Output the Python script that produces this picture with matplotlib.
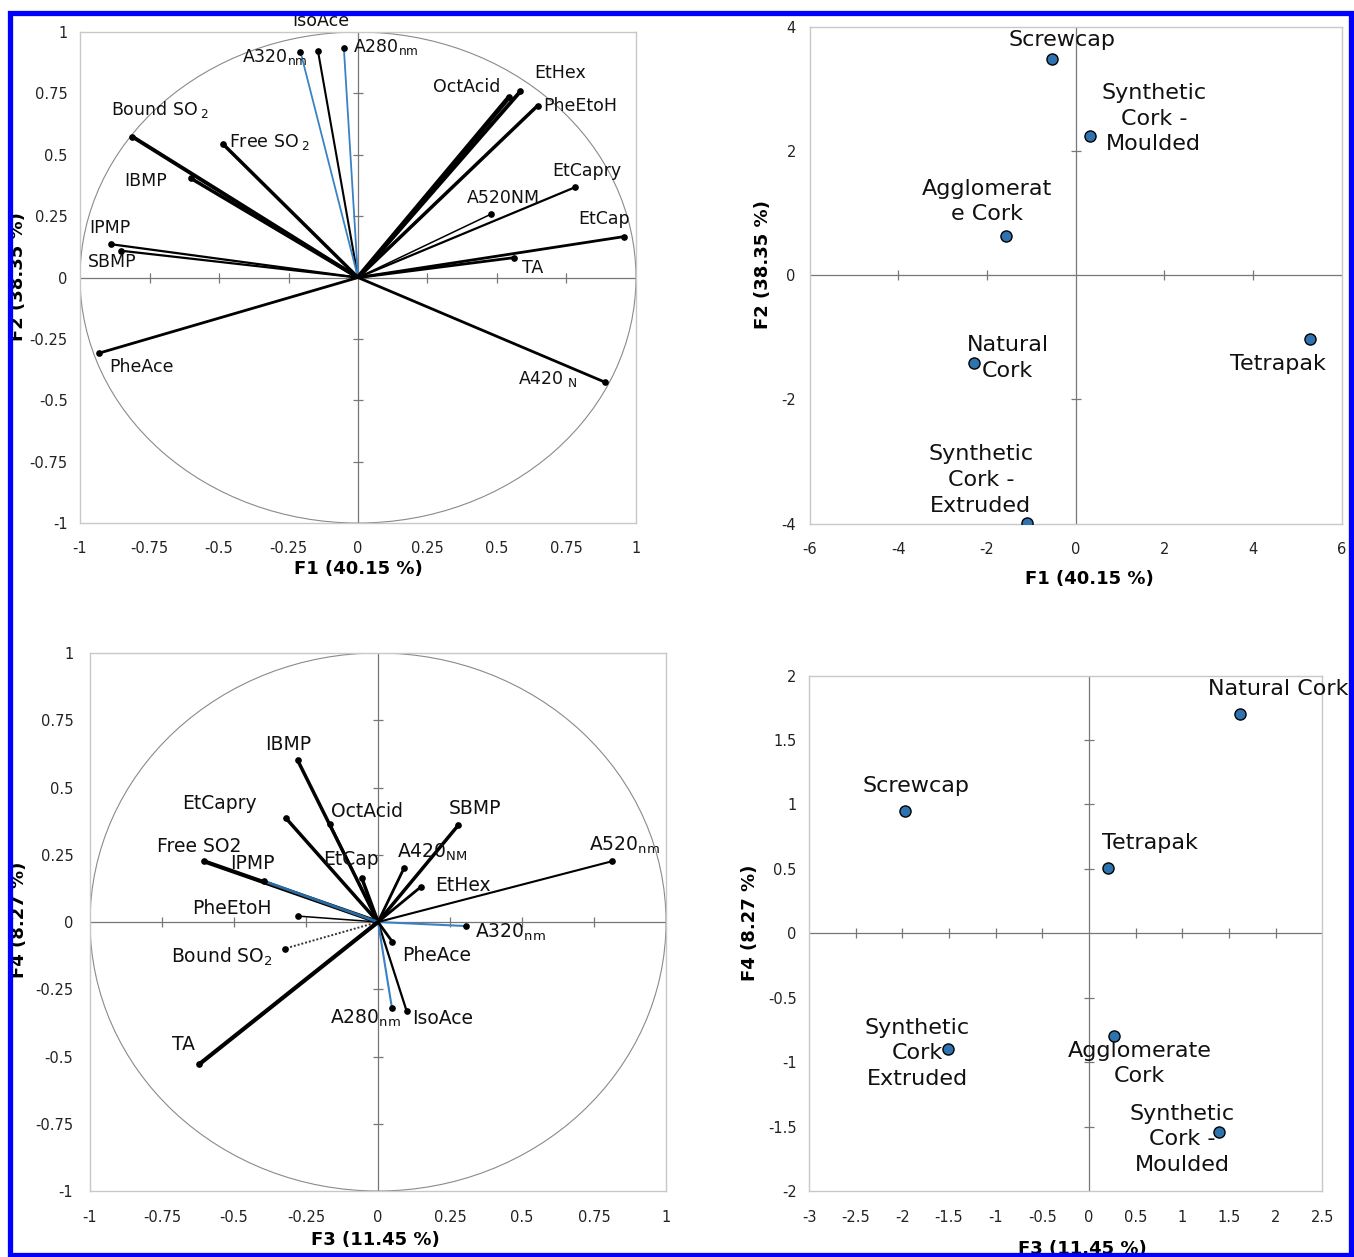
import matplotlib
matplotlib.use("Agg")
import matplotlib.pyplot as plt
import matplotlib.patches as patches
from matplotlib.ticker import FuncFormatter

plt.rcParams['font.family'] = ['DejaVu Sans']
plt.rcParams['mathtext.default'] = 'regular'
plt.rcParams['axes.unicode_minus'] = False

# ---------------- data ----------------
variables = ['IsoAce', 'A320nm', 'A280nm', 'OctAcid', 'EtHex', 'PheEtoH',
             'BoundSO2', 'FreeSO2', 'IBMP', 'EtCapry', 'A520nm', 'EtCap',
             'IPMP', 'SBMP', 'TA', 'PheAce', 'A420nm']

# loadings F1 / F2
f1 = [-0.144, -0.207, -0.051, 0.545, 0.584, 0.646, -0.812, -0.485, -0.601,
      0.779, 0.478, 0.958, -0.890, -0.851, 0.561, -0.932, 0.888]
f2 = [0.923, 0.920, 0.937, 0.737, 0.758, 0.700, 0.574, 0.543, 0.404,
      0.367, 0.258, 0.167, 0.136, 0.109, 0.081, -0.308, -0.426]

# loadings F3 / F4
f3 = [0.099, 0.305, 0.048, -0.166, 0.148, -0.278, -0.324, -0.605, -0.279,
      -0.319, 0.813, -0.057, -0.396, 0.278, -0.620, 0.050, 0.090]
f4 = [-0.330, -0.015, -0.318, 0.363, 0.130, 0.022, -0.099, 0.226, 0.601,
      0.385, 0.226, 0.165, 0.152, 0.359, -0.528, -0.074, 0.200]

labels_12 = ['IsoAce', 'A320$_{nm}$', 'A280$_{nm}$', 'OctAcid', 'EtHex', 'PheEtoH',
             'Bound SO$_{\\ 2}$', 'Free SO$_{\\ 2}$', 'IBMP', 'EtCapry', 'A520NM', 'EtCap',
             'IPMP', 'SBMP', 'TA', 'PheAce', 'A420$_{\\ N}$']
labels_34 = ['IsoAce', 'A320$_{nm}$', 'A280$_{nm}$', 'OctAcid', 'EtHex', 'PheEtoH',
             'Bound SO$_2$', 'Free SO2', 'IBMP', 'EtCapry', 'A520$_{nm}$', 'EtCap',
             'IPMP', 'SBMP', 'TA', 'PheAce', 'A420$_{NM}$']

# sample scores
closures = ['Screwcap', 'Synthetic Cork - Moulded', 'Agglomerate Cork',
            'Natural Cork', 'Synthetic Cork - Extruded', 'Tetrapak']
s1 = [-0.53, 0.33, -1.58, -2.30, -1.09, 5.29]
s2 = [3.49, 2.25, 0.63, -1.42, -3.99, -1.03]
s3 = [-1.97, 1.39, 0.27, 1.62, -1.51, 0.20]
s4 = [0.95, -1.54, -0.80, 1.70, -0.90, 0.51]

# ---------------- styles / label placement ----------------
BLUE = '#3a82c4'
PT_BLUE = '#2f72b0'

# (colour, linewidth, linestyle) per variable
style_12 = {
    'IsoAce': ('black', 1.5, '-'), 'A320nm': (BLUE, 1.3, '-'), 'A280nm': (BLUE, 1.3, '-'),
    'OctAcid': ('black', 3.4, '-'), 'EtHex': ('black', 2.8, '-'), 'PheEtoH': ('black', 2.5, '-'),
    'BoundSO2': ('black', 2.8, '-'), 'FreeSO2': ('black', 2.5, '-'), 'IBMP': ('black', 2.5, '-'),
    'EtCapry': ('black', 1.6, '-'), 'A520nm': ('black', 1.1, '-'), 'EtCap': ('black', 2.0, '-'),
    'IPMP': ('black', 1.6, '-'), 'SBMP': ('black', 1.6, '-'), 'TA': ('black', 2.0, '-'),
    'PheAce': ('black', 2.0, '-'), 'A420nm': ('black', 2.0, '-'),
}
style_34 = {
    'IsoAce': ('black', 1.6, '-'), 'A320nm': (BLUE, 1.5, '-'), 'A280nm': (BLUE, 1.5, '-'),
    'OctAcid': ('black', 1.5, '-'), 'EtHex': ('black', 2.0, '-'), 'PheEtoH': ('black', 1.1, '-'),
    'BoundSO2': ('#333333', 1.4, (0, (1, 1))), 'FreeSO2': ('black', 3.0, '-'), 'IBMP': ('black', 2.5, '-'),
    'EtCapry': ('black', 2.5, '-'), 'A520nm': ('black', 1.5, '-'), 'EtCap': ('black', 2.5, '-'),
    'IPMP': ('#2a6aa3', 2.0, '-'), 'SBMP': ('black', 2.5, '-'), 'TA': ('black', 3.0, '-'),
    'PheAce': ('black', 2.0, '-'), 'A420nm': ('black', 2.0, '-'),
}

# label centres in data coordinates
lab_pos_12 = {
    'IsoAce': (-0.133, 1.047), 'A320nm': (-0.30, 0.90), 'A280nm': (0.10, 0.94),
    'OctAcid': (0.392, 0.778), 'EtHex': (0.727, 0.835), 'PheEtoH': (0.80, 0.697),
    'BoundSO2': (-0.712, 0.684), 'FreeSO2': (-0.317, 0.554), 'IBMP': (-0.763, 0.395),
    'EtCapry': (0.824, 0.436), 'A520nm': (0.522, 0.322), 'EtCap': (0.885, 0.24),
    'IPMP': (-0.892, 0.20), 'SBMP': (-0.885, 0.065), 'TA': (0.63, 0.04),
    'PheAce': (-0.78, -0.363), 'A420nm': (0.683, -0.415),
}
lab_pos_34 = {
    'IsoAce': (0.225, -0.357), 'A320nm': (0.46, -0.038), 'A280nm': (-0.043, -0.357),
    'OctAcid': (-0.039, 0.411), 'EtHex': (0.294, 0.136), 'PheEtoH': (-0.508, 0.051),
    'BoundSO2': (-0.543, -0.131), 'FreeSO2': (-0.622, 0.281), 'IBMP': (-0.313, 0.66),
    'EtCapry': (-0.55, 0.441), 'A520nm': (0.857, 0.285), 'EtCap': (-0.095, 0.233),
    'IPMP': (-0.435, 0.218), 'SBMP': (0.336, 0.423), 'TA': (-0.675, -0.454),
    'PheAce': (0.204, -0.124), 'A420nm': (0.19, 0.259),
}

score_lab_12 = {
    'Screwcap': ('Screwcap', (-0.31, 3.79)),
    'Synthetic Cork - Moulded': ('Synthetic\nCork -\nMoulded', (1.76, 2.52)),
    'Agglomerate Cork': ('Agglomerat\ne Cork', (-2.0, 1.19)),
    'Natural Cork': ('Natural\nCork', (-1.54, -1.33)),
    'Synthetic Cork - Extruded': ('Synthetic\nCork -\nExtruded', (-2.14, -3.30)),
    'Tetrapak': ('Tetrapak', (4.57, -1.43)),
}
score_lab_34 = {
    'Screwcap': ('Screwcap', (-1.85, 1.14)),
    'Synthetic Cork - Moulded': ('Synthetic\nCork -\nMoulded', (1.00, -1.60)),
    'Agglomerate Cork': ('Agglomerate\nCork', (0.54, -1.01)),
    'Natural Cork': ('Natural Cork', (2.03, 1.90)),
    'Synthetic Cork - Extruded': ('Synthetic\nCork\nExtruded', (-1.84, -0.93)),
    'Tetrapak': ('Tetrapak', (0.65, 0.70)),
}


def fmt(v, pos):
    return '{:g}'.format(round(v, 4))


def setup_frame(ax, xlim, ylim, xticks, yticks, xlabel, ylabel,
                xpad, ypad, xlab_xy, ylab_xy):
    ax.set_xlim(*xlim)
    ax.set_ylim(*ylim)
    ax.set_xticks(xticks)
    ax.set_yticks(yticks)
    ax.xaxis.set_major_formatter(FuncFormatter(fmt))
    ax.yaxis.set_major_formatter(FuncFormatter(fmt))
    for s in ax.spines.values():
        s.set_color('#c8c8c8')
        s.set_linewidth(1.0)
    ax.tick_params(axis='x', length=0, labelsize=10.5, pad=xpad, colors='#222222')
    ax.tick_params(axis='y', length=0, labelsize=10.5, pad=ypad, colors='#222222')
    # zero axes with small tick marks
    ax.axhline(0, color='#777777', lw=0.9, zorder=1)
    ax.axvline(0, color='#777777', lw=0.9, zorder=1)
    xin = [t for t in xticks if t != 0 and xlim[0] < t < xlim[1]]
    yin = [t for t in yticks if t != 0 and ylim[0] < t < ylim[1]]
    ax.plot(xin, [0] * len(xin), '|', color='#777777', ms=7, mew=0.9, zorder=1)
    ax.plot([0] * len(yin), yin, '_', color='#777777', ms=7, mew=0.9, zorder=1)
    ax.set_xlabel(xlabel, fontsize=13, fontweight='bold')
    ax.set_ylabel(ylabel, fontsize=13, fontweight='bold')
    ax.xaxis.set_label_coords(*xlab_xy)
    ax.yaxis.set_label_coords(*ylab_xy)


def draw_loadings(ax, xs, ys, labels, styles, lab_pos, fs):
    ax.add_patch(patches.Circle((0, 0), 1, fill=False, ec='#8a8a8a', lw=0.8, zorder=1))
    for name, x, y, lab in zip(variables, xs, ys, labels):
        c, lw, ls = styles[name]
        ax.plot([0, x], [0, y], color=c, lw=lw, ls=ls, solid_capstyle='butt', zorder=3)
        ax.plot(x, y, 'o', color='black', ms=3.8, zorder=4)
        lx, ly = lab_pos[name]
        ax.text(lx, ly, lab, fontsize=fs, ha='center', va='center',
                color='#111111', zorder=5, clip_on=False)


def draw_scores(ax, xs, ys, lab_map, fs):
    for name, x, y in zip(closures, xs, ys):
        ax.plot(x, y, 'o', ms=8, mfc=PT_BLUE, mec='black', mew=1.0, zorder=4)
        txt, (lx, ly) = lab_map[name]
        ax.text(lx, ly, txt, fontsize=fs, ha='center', va='center',
                linespacing=1.35, color='#111111', zorder=5, clip_on=False)


fig = plt.figure(figsize=(13.54, 12.57), dpi=100)

# top-left: loadings F1/F2
ax1 = fig.add_axes([0.0591, 0.5839, 0.4106, 0.3906])
tk = [-1, -0.75, -0.5, -0.25, 0, 0.25, 0.5, 0.75, 1]
setup_frame(ax1, (-1, 1), (-1, 1), tk, tk, 'F1 (40.15 %)', 'F2 (38.35 %)',
            xpad=13, ypad=9, xlab_xy=(0.5, -0.075), ylab_xy=(-0.095, 0.503))
draw_loadings(ax1, f1, f2, labels_12, style_12, lab_pos_12, 12.5)

# top-right: scores F1/F2
ax2 = fig.add_axes([0.598, 0.5835, 0.393, 0.395])
setup_frame(ax2, (-6, 6), (-4, 4), [-6, -4, -2, 0, 2, 4, 6], [-4, -2, 0, 2, 4],
            'F1 (40.15 %)', 'F2 (38.35 %)',
            xpad=13, ypad=10, xlab_xy=(0.525, -0.094), ylab_xy=(-0.071, 0.522))
draw_scores(ax2, s1, s2, score_lab_12, 16)

# bottom-left: loadings F3/F4
ax3 = fig.add_axes([0.0665, 0.0525, 0.4254, 0.428])
setup_frame(ax3, (-1, 1), (-1, 1), tk, tk, 'F3 (11.45 %)', 'F4 (8.27 %)',
            xpad=14, ypad=12, xlab_xy=(0.495, -0.074), ylab_xy=(-0.108, 0.504))
draw_loadings(ax3, f3, f4, labels_34, style_34, lab_pos_34, 13.5)

# bottom-right: scores F3/F4
ax4 = fig.add_axes([0.5975, 0.0525, 0.379, 0.410])
setup_frame(ax4, (-3, 2.5), (-2, 2), [-3, -2.5, -2, -1.5, -1, -0.5, 0, 0.5, 1, 1.5, 2, 2.5],
            [-2, -1.5, -1, -0.5, 0, 0.5, 1, 1.5, 2],
            'F3 (11.45 %)', 'F4 (8.27 %)',
            xpad=14, ypad=9, xlab_xy=(0.532, -0.095), ylab_xy=(-0.0965, 0.52))
draw_scores(ax4, s3, s4, score_lab_34, 16)

# blue frame round the whole figure
W, H = 1354.0, 1257.0
border = patches.Rectangle((9.5 / W, 1 - 1254.5 / H), (1351 - 9.5) / W, (1254.5 - 12.5) / H,
                           transform=fig.transFigure, fill=False, ec='#0000ff', lw=3.8,
                           zorder=100)
fig.add_artist(border)
# white margin outside the frame
for rect in [(0, 0, 7.6 / W, 1), (1352.9 / W, 0, 1, 1), (0, 1 - 10.6 / H, 1, 1), (0, 0, 1, 0.6 / H)]:
    fig.add_artist(patches.Rectangle(rect[:2], rect[2], rect[3], transform=fig.transFigure,
                                     fc='white', ec='none', zorder=99))

fig.savefig('out.png', dpi=100)
